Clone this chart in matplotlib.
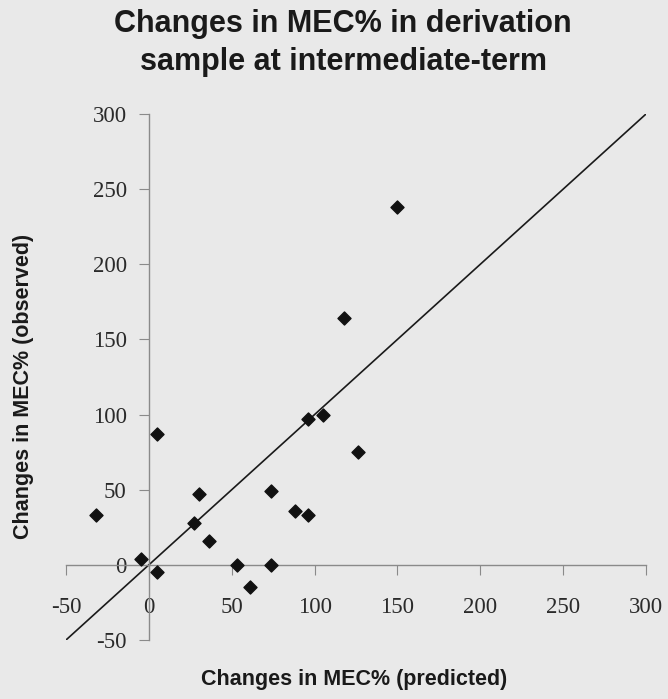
import numpy as np
import matplotlib
matplotlib.use('Agg')
import matplotlib.pyplot as plt

# Predicted vs observed change in MEC%
predicted = [-32, 5, -5, 5, 30, 27, 36, 53, 61, 74, 74, 88, 96, 96, 105, 126, 150, 118]
observed = [33, 87, 4, -5, 47, 28, 16, 0, -15, 0, 49, 36, 33, 97, 100, 75, 238, 164]

# identity line
line_x = [-50, 300]
line_y = [-50, 300]

ticks = list(range(-50, 301, 50))

bg = '#e9e9e9'
fig = plt.figure(figsize=(6.68, 6.99), dpi=100, facecolor=bg)
ax = fig.add_axes([66 / 668, 1 - 640 / 699, 580 / 668, 526 / 699])
ax.set_facecolor(bg)

ax.plot(line_x, line_y, color='#1a1a1a', linewidth=1.2, zorder=2)
ax.scatter(predicted, observed, marker='D', s=44, color='#111111', zorder=3)

ax.set_xlim(-50, 300)
ax.set_ylim(-50, 300)

# axes cross at the origin, no box
ax.spines['left'].set_position(('data', 0))
ax.spines['bottom'].set_position(('data', 0))
ax.spines['top'].set_visible(False)
ax.spines['right'].set_visible(False)
for s in ('left', 'bottom'):
    ax.spines[s].set_color('#8a8a8a')
    ax.spines[s].set_linewidth(1.0)

ax.set_xticks(ticks)
ax.set_yticks(ticks)
ax.set_xticklabels([str(t) for t in ticks])
ax.set_yticklabels([str(t) for t in ticks])
ax.tick_params(axis='both', direction='out', length=7, color='#8a8a8a',
               labelcolor='#2a2a2a', labelsize=16.5)
ax.tick_params(axis='x', pad=16)
ax.tick_params(axis='y', pad=9)
for lab in ax.get_xticklabels() + ax.get_yticklabels():
    lab.set_fontfamily('Liberation Serif')

# title and axis labels
fig.text(343 / 668, 1 - 9 / 699, 'Changes in MEC% in derivation\nsample at intermediate-term',
         ha='center', va='top', fontsize=22, fontweight='bold',
         family='Liberation Sans', color='#1a1a1a', linespacing=1.35)
fig.text(354 / 668, 1 - 680 / 699, 'Changes in MEC% (predicted)',
         ha='center', va='center', fontsize=15.5, fontweight='bold',
         family='Liberation Sans', color='#1a1a1a')
fig.text(24 / 668, 1 - 386 / 699, 'Changes in MEC% (observed)',
         ha='center', va='center', rotation=90, fontsize=15.5, fontweight='bold',
         family='Liberation Sans', color='#1a1a1a')

fig.savefig('out.png', dpi=100, facecolor=bg)
